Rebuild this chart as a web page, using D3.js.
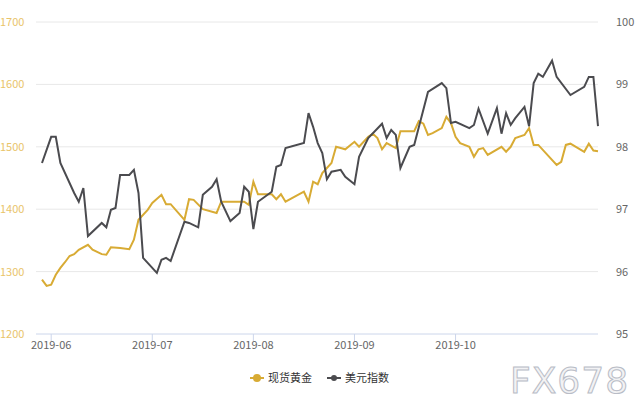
<!DOCTYPE html>
<html><head><meta charset="utf-8">
<script src="https://cdn.jsdelivr.net/npm/d3@7/dist/d3.min.js"></script>
<style>body{margin:0;background:#fff}svg{display:block}</style>
</head><body><svg width="640" height="400"></svg>
<script>
const categoryCount = 122;
const monthLabels = [[2,"2019-06"],[24,"2019-07"],[46,"2019-08"],[68,"2019-09"],[90,"2019-10"]];
const leftTicks = [1200,1300,1400,1500,1600,1700];
const rightTicks = [95,96,97,98,99,100];
const gold = [[0,1287],[1,1277],[2,1279],[3,1295],[4,1306],[5,1315],[6,1325],[7,1328],[8,1335],[10,1343],[11,1335],[13,1328],[14,1327],[15,1339],[17,1338],[19,1336],[20,1351],[21,1383],[23,1399],[24,1410],[26,1423],[27,1408],[28,1408],[31,1383],[32,1416],[33,1415],[35,1400],[38,1394],[39,1412],[44,1412],[45,1407],[46,1444],[47,1424],[50,1424],[51,1416],[52,1424],[53,1412],[57,1428],[58,1412],[59,1444],[60,1440],[61,1458],[63,1474],[64,1500],[65,1498],[66,1496],[68,1508],[69,1500],[71,1516],[72,1521],[73,1514],[74,1496],[75,1506],[77,1498],[78,1525],[81,1525],[82,1541],[83,1537],[84,1519],[85,1522],[87,1530],[88,1548],[89,1538],[90,1516],[91,1506],[93,1500],[94,1484],[95,1496],[96,1498],[97,1487],[100,1500],[101,1492],[102,1500],[103,1514],[105,1519],[106,1530],[107,1503],[108,1503],[112,1471],[113,1476],[114,1503],[115,1505],[118,1492],[119,1505],[120,1494],[121,1493]];
const usd = [[0,97.74],[2,98.16],[3,98.16],[4,97.74],[7,97.26],[8,97.12],[9,97.34],[10,96.57],[13,96.78],[14,96.71],[15,96.99],[16,97.02],[17,97.55],[19,97.55],[20,97.63],[21,97.26],[22,96.22],[25,95.98],[26,96.19],[27,96.22],[28,96.17],[31,96.80],[32,96.78],[34,96.71],[35,97.23],[37,97.36],[38,97.48],[39,97.12],[41,96.81],[43,96.94],[44,97.36],[45,97.28],[46,96.68],[47,97.12],[50,97.28],[51,97.68],[52,97.71],[53,97.98],[57,98.06],[58,98.54],[59,98.32],[60,98.06],[61,97.90],[62,97.48],[63,97.60],[65,97.63],[66,97.52],[68,97.40],[69,97.84],[71,98.14],[74,98.37],[75,98.14],[76,98.27],[77,98.19],[78,97.66],[80,98.00],[81,98.03],[84,98.88],[87,99.02],[88,98.94],[89,98.38],[90,98.40],[93,98.30],[94,98.35],[95,98.61],[97,98.21],[99,98.62],[100,98.21],[101,98.54],[102,98.35],[103,98.46],[105,98.64],[106,98.33],[107,99.02],[108,99.17],[109,99.12],[111,99.38],[112,99.12],[115,98.83],[118,98.96],[119,99.12],[120,99.12],[121,98.33]];
const names = ["现货黄金","美元指数"];
const colors = ["#d8ab34","#4b4b4f"];

const svg = d3.select("svg");
const font = "'Noto Sans CJK SC','Microsoft YaHei',sans-serif";
const x = d3.scaleLinear().domain([0,categoryCount-1]).range([42,598]);
const yL = d3.scaleLinear().domain([1200,1700]).range([334,22]);
const yR = d3.scaleLinear().domain([95,100]).range([334,22]);

svg.append("g").selectAll("line").data(leftTicks.slice(1)).join("line")
  .attr("x1",36).attr("x2",598).attr("y1",d=>yL(d)).attr("y2",d=>yL(d))
  .attr("stroke","#e8e8e8");
svg.append("line").attr("x1",36).attr("x2",598).attr("y1",yL(1200)).attr("y2",yL(1200)).attr("stroke","#ccd6eb");
svg.append("g").selectAll("line").data(monthLabels).join("line")
  .attr("x1",d=>x(d[0])).attr("x2",d=>x(d[0])).attr("y1",334).attr("y2",342).attr("stroke","#ccd6eb");
svg.append("g").selectAll("text").data(monthLabels).join("text")
  .attr("x",d=>x(d[0])).attr("y",349).attr("text-anchor","middle")
  .attr("font-family",font).attr("font-size",11).attr("fill","#666").text(d=>d[1]);
svg.append("g").selectAll("text").data(leftTicks).join("text")
  .attr("x",0).attr("y",d=>yL(d)+4).attr("font-family",font).attr("font-size",11)
  .attr("fill","#e9c46a").text(d=>d);
svg.append("g").selectAll("text").data(rightTicks).join("text")
  .attr("x",616).attr("y",d=>yR(d)+4).attr("font-family",font).attr("font-size",11)
  .attr("fill","#666").text(d=>d);

const lg = d3.line().x(d=>x(d[0])).y(d=>yL(d[1]));
const lr = d3.line().x(d=>x(d[0])).y(d=>yR(d[1]));
svg.append("path").attr("d",lg(gold)).attr("fill","none").attr("stroke",colors[0]).attr("stroke-width",2);
svg.append("path").attr("d",lr(usd)).attr("fill","none").attr("stroke",colors[1]).attr("stroke-width",2);

const leg = svg.append("g").selectAll("g").data(names).join("g")
  .attr("transform",(d,i)=>`translate(${250+i*77},378)`);
leg.append("line").attr("x1",0).attr("x2",14).attr("stroke",(d,i)=>colors[i]).attr("stroke-width",2);
leg.append("circle").attr("cx",7).attr("r",(d,i)=>i?3:4).attr("fill",(d,i)=>colors[i]);
leg.append("text").attr("x",18).attr("y",4).attr("font-family",font).attr("font-size",11).attr("fill","#333").text(d=>d);

svg.append("text").attr("x",510).attr("y",393).attr("font-family","'DejaVu Sans',sans-serif")
  .attr("font-size",36).attr("fill","#f2f2f4").attr("stroke","#b8bcc6").attr("stroke-width",1)
  .attr("letter-spacing",1).text("FX678");
</script></body></html>
